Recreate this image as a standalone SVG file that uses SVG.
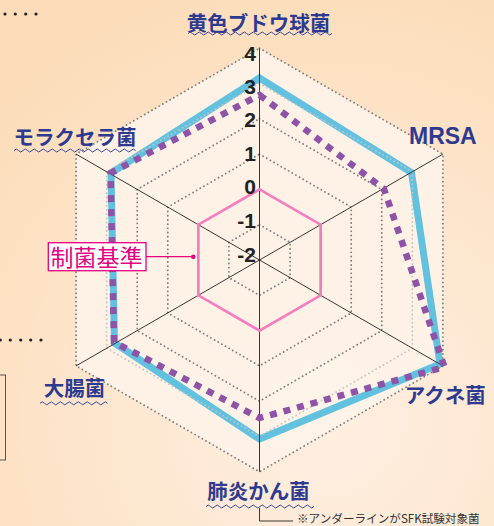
<svg xmlns="http://www.w3.org/2000/svg" width="494" height="526" viewBox="0 0 494 526">
<defs>
<radialGradient id="bg" cx="330" cy="420" r="470" gradientUnits="userSpaceOnUse">
<stop offset="0" stop-color="#feefe2"/>
<stop offset="1" stop-color="#fcdcb8"/>
</radialGradient>
</defs>
<style>
.grid{fill:none;stroke:#7e7e7e;stroke-width:1.9;stroke-dasharray:0 4.2;stroke-linecap:round}
.grid3{fill:none;stroke:#c4c4c4;stroke-width:1.9;stroke-dasharray:0 4.2;stroke-linecap:round}
.axis{stroke:#222;stroke-width:0.9;fill:none}
.tick{font-family:"Liberation Sans",Arial,sans-serif;font-weight:bold;font-size:21px;fill:#222;text-anchor:end}
.cat{font-family:"Noto Sans CJK JP","Noto Sans",sans-serif;font-weight:bold;font-size:20.5px;fill:#2e3a8f;text-anchor:middle}
.wave{fill:none;stroke:#3a46a0;stroke-width:1}
.dot{fill:#222}
</style>
<rect width="494" height="526" fill="url(#bg)"/>
<g id="side-marks">
<circle class="dot" cx="5" cy="14" r="1.6"/><circle class="dot" cx="15.3" cy="14" r="1.6"/><circle class="dot" cx="25.7" cy="14" r="1.6"/><circle class="dot" cx="36" cy="14" r="1.6"/>
<circle class="dot" cx="0.3" cy="340" r="1.6"/><circle class="dot" cx="10.3" cy="340" r="1.6"/><circle class="dot" cx="20.7" cy="340" r="1.6"/><circle class="dot" cx="30.7" cy="340" r="1.6"/><circle class="dot" cx="41" cy="340" r="1.6"/>
<rect x="-10" y="375" width="15.5" height="85" fill="none" stroke="#555" stroke-width="1"/>
</g>
<g id="chart-area">
<polygon points="259.5,48.2 442.92,154.1 442.92,365.9 259.5,471.8 76.08,365.9 76.08,154.1" fill="#fef3e9" fill-opacity="0.9"/>
</g>
<g id="series-cyan">
<polygon points="259.5,78 411.5,172.5 440,364 259.5,439 114.5,343 111,173" fill="none" stroke="#62c1de" stroke-width="7" stroke-linejoin="miter"/>
</g>
<g id="grid">
<polygon class="grid" points="259.5,224.7 290.07,242.35 290.07,277.65 259.5,295.3 228.93,277.65 228.93,242.35"/>
<polygon class="grid" points="259.5,154.1 351.21,207.05 351.21,312.95 259.5,365.9 167.79,312.95 167.79,207.05"/>
<polygon class="grid" points="259.5,118.8 381.78,189.4 381.78,330.6 259.5,401.2 137.22,330.6 137.22,189.4"/>
<polygon class="grid3" points="259.5,83.5 412.35,171.75 412.35,348.25 259.5,436.5 106.65,348.25 106.65,171.75"/>
<polygon class="grid" points="259.5,48.2 442.92,154.1 442.92,365.9 259.5,471.8 76.08,365.9 76.08,154.1"/>
</g>
<g id="connectors">
<line class="axis" x1="259.5" y1="48.2" x2="259.5" y2="471.8"/>
<line class="axis" x1="76.08" y1="154.1" x2="442.92" y2="365.9"/>
<line class="axis" x1="442.92" y1="154.1" x2="76.08" y2="365.9"/>
<polyline class="axis" points="259.5,508 259.5,521 293,521"/>
<line x1="146" y1="256.7" x2="193.3" y2="256.7" stroke="#e4007f" stroke-width="1.3"/>
<circle cx="193.3" cy="256.7" r="2.2" fill="#e4007f"/>
</g>
<g id="standard-hexagon">
<polygon points="259.5,189.4 320.64,224.7 320.64,295.3 259.5,330.6 198.36,295.3 198.36,224.7" fill="none" stroke="#f47dbd" stroke-width="2.7"/>
</g>
<g id="series-purple">
<polygon points="259.5,95 384,189 444.5,367 259.5,418 114,342 110.5,173" fill="none" stroke="#8e52a6" stroke-width="6.5" stroke-dasharray="7 7" stroke-linejoin="miter"/>
</g>
<g id="ticks">
<text class="tick" x="256" y="61">4</text>
<text class="tick" x="256" y="93.5">3</text>
<text class="tick" x="256" y="127">2</text>
<text class="tick" x="256" y="160.5">1</text>
<text class="tick" x="256" y="194">0</text>
<text class="tick" x="256" y="228">-1</text>
<text class="tick" x="256" y="262">-2</text>
</g>
<g id="node-staph">
<text class="cat" x="258.5" y="31">黄色ブドウ球菌</text>
<path class="wave" d="M188 33.5 q2.25 -3 4.5 0 t4.5 0 t4.5 0 t4.5 0 t4.5 0 t4.5 0 t4.5 0 t4.5 0 t4.5 0 t4.5 0 t4.5 0 t4.5 0 t4.5 0 t4.5 0 t4.5 0 t4.5 0 t4.5 0 t4.5 0 t4.5 0 t4.5 0 t4.5 0 t4.5 0 t4.5 0 t4.5 0 t4.5 0 t4.5 0 t4.5 0 t4.5 0 t4.5 0 t4.5 0 t4.5 0 t4.5 0"/>
</g>
<g id="node-mrsa">
<text x="409" y="144" font-family="'Liberation Sans',Arial,sans-serif" font-weight="bold" font-size="23" fill="#2e3a8f">MRSA</text>
</g>
<g id="node-acne">
<text class="cat" x="445.3" y="403">アクネ菌</text>
</g>
<g id="node-pneumonia">
<text class="cat" x="258.5" y="498.5">肺炎かん菌</text>
<path class="wave" d="M206 506.5 q2.25 -3 4.5 0 t4.5 0 t4.5 0 t4.5 0 t4.5 0 t4.5 0 t4.5 0 t4.5 0 t4.5 0 t4.5 0 t4.5 0 t4.5 0 t4.5 0 t4.5 0 t4.5 0 t4.5 0 t4.5 0 t4.5 0 t4.5 0 t4.5 0 t4.5 0 t4.5 0 t4.5 0 t4.5 0"/>
</g>
<g id="node-ecoli">
<text class="cat" x="74.5" y="396">大腸菌</text>
<path class="wave" d="M40 403.3 q2.25 -3 4.5 0 t4.5 0 t4.5 0 t4.5 0 t4.5 0 t4.5 0 t4.5 0 t4.5 0 t4.5 0 t4.5 0 t4.5 0 t4.5 0 t4.5 0 t4.5 0 t4.5 0"/>
</g>
<g id="node-moraxella">
<text class="cat" x="75" y="144.5">モラクセラ菌</text>
<path class="wave" d="M14 150.5 q2.25 -3 4.5 0 t4.5 0 t4.5 0 t4.5 0 t4.5 0 t4.5 0 t4.5 0 t4.5 0 t4.5 0 t4.5 0 t4.5 0 t4.5 0 t4.5 0 t4.5 0 t4.5 0 t4.5 0 t4.5 0 t4.5 0 t4.5 0 t4.5 0 t4.5 0 t4.5 0 t4.5 0 t4.5 0 t4.5 0 t4.5 0 t4.5 0"/>
</g>
<g id="node-standard-label">
<rect x="48.3" y="242.7" width="97.7" height="28" fill="#ffffff" stroke="#e4007f" stroke-width="1.3"/>
<text x="50.5" y="265.7" font-family="'Noto Sans CJK JP','Noto Sans',sans-serif" font-size="23" fill="#e4007f">制菌基準</text>
</g>
<g id="footnote">
<text x="297" y="522.5" font-family="'Noto Sans CJK JP','Noto Sans',sans-serif" font-size="11.6" fill="#333">※アンダーラインがSFK試験対象菌</text>
</g>
</svg>
